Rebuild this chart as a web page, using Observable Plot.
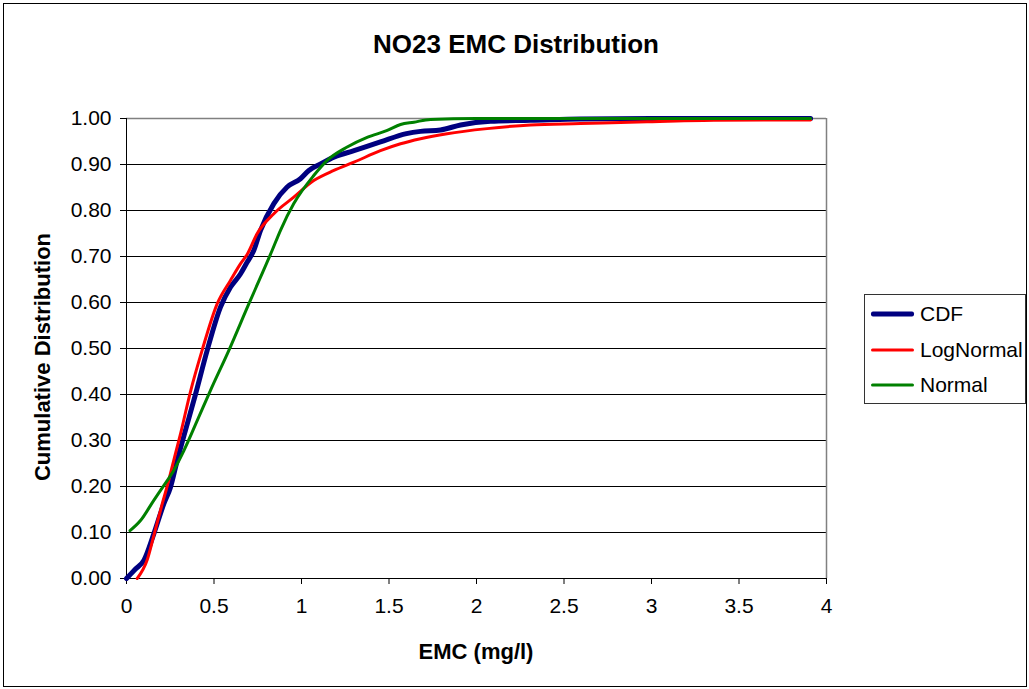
<!DOCTYPE html>
<html><head><meta charset="utf-8">
<script src="https://cdn.jsdelivr.net/npm/d3@7"></script>
<script src="https://cdn.jsdelivr.net/npm/@observablehq/plot@0.6"></script>
<style>
body{margin:0;background:#fff;font-family:"Liberation Sans",Arial,sans-serif;}
#wrap{position:relative;width:1029px;height:689px;overflow:hidden;background:#fff}
#wrap svg{position:absolute;left:0;top:0}
#border{position:absolute;left:3px;top:3px;width:1022px;height:682px;border:1px solid #000}
.lbl{position:absolute;font-weight:bold;color:#000;white-space:nowrap}
#title{left:516px;top:44px;font-size:26px;transform:translate(-50%,-50%)}
#xlab{left:476px;top:652px;font-size:22px;transform:translate(-50%,-50%)}
#ylab{left:43px;top:357px;font-size:22px;transform:translate(-50%,-50%) rotate(-90deg)}
#legend{position:absolute;left:864px;top:294px;width:160px;height:108px;border:1px solid #333;background:#fff}
.item{position:absolute;left:6px;height:22px;font-size:21px}
.item .sw{position:absolute;left:0;width:43px;top:50%;transform:translateY(-50%);border-radius:2px}
.item span{position:absolute;left:49px;top:50%;transform:translateY(-50%);white-space:nowrap}
</style></head>
<body>
<div id="wrap">
<div id="border"></div>
</div>
<script>
// ---- data ----
const seriesNames = ["CDF", "LogNormal", "Normal"];
const seriesColors = ["#000080", "#ff0000", "#008000"];
const seriesWidths = [5, 3, 3];

const cdfX = [0, 0.05, 0.10, 0.156, 0.213, 0.251, 0.29, 0.328, 0.394, 0.461, 0.537, 0.594, 0.651, 0.69, 0.727, 0.766, 0.842, 0.918, 0.994, 1.042, 1.109, 1.185, 1.3, 1.451, 1.6, 1.68, 1.794, 1.909, 2.08, 2.309, 2.594, 3.0, 3.5, 3.909];
const cdfY = [0, 0.02, 0.04, 0.097, 0.162, 0.198, 0.257, 0.31, 0.40, 0.496, 0.59, 0.633, 0.662, 0.688, 0.713, 0.757, 0.815, 0.851, 0.869, 0.887, 0.901, 0.916, 0.93, 0.949, 0.967, 0.972, 0.975, 0.986, 0.994, 0.996, 0.999, 1.0, 1.0, 1.0];

const logNormalX = [0.061, 0.118, 0.156, 0.204, 0.232, 0.27, 0.309, 0.366, 0.432, 0.518, 0.594, 0.651, 0.69, 0.747, 0.842, 0.956, 1.07, 1.185, 1.3, 1.451, 1.566, 1.68, 1.832, 2.061, 2.309, 2.594, 2.975, 3.356, 3.909];
const logNormalY = [0, 0.04, 0.093, 0.162, 0.2, 0.257, 0.315, 0.407, 0.496, 0.597, 0.648, 0.684, 0.705, 0.75, 0.793, 0.829, 0.865, 0.887, 0.905, 0.93, 0.945, 0.956, 0.967, 0.978, 0.986, 0.989, 0.993, 0.996, 0.997];

const normalX = [0.02, 0.08, 0.156, 0.213, 0.27, 0.328, 0.404, 0.48, 0.585, 0.699, 0.766, 0.832, 0.88, 0.956, 1.07, 1.147, 1.261, 1.375, 1.49, 1.566, 1.642, 1.737, 2.0, 3.0, 3.909];
const normalY = [0.104, 0.126, 0.17, 0.202, 0.235, 0.278, 0.343, 0.409, 0.496, 0.597, 0.655, 0.713, 0.757, 0.815, 0.876, 0.909, 0.938, 0.959, 0.974, 0.987, 0.992, 0.998, 1.0, 1.0, 1.0];

const xTicks = [0, 0.5, 1, 1.5, 2, 2.5, 3, 3.5, 4];
const yTicks = [0, 0.1, 0.2, 0.3, 0.4, 0.5, 0.6, 0.7, 0.8, 0.9, 1.0];

const titleText = "NO23 EMC Distribution";
const xLabel = "EMC (mg/l)";
const yLabel = "Cumulative Distribution";

// ---- build ----
const toRows = (xs, ys, s) => xs.map((x, i) => ({x, y: ys[i], s}));
const cdf = toRows(cdfX, cdfY, "CDF");
const logn = toRows(logNormalX, logNormalY, "LogNormal");
const norm = toRows(normalX, normalY, "Normal");

const chart = Plot.plot({
  width: 1029, height: 689,
  marginLeft: 126, marginRight: 203, marginTop: 118, marginBottom: 111,
  x: {domain: [0, 4]},
  y: {domain: [0, 1]},
  color: {domain: seriesNames, range: seriesColors},
  style: {fontFamily: "'Liberation Sans', Arial, sans-serif", fontSize: "21px", background: "transparent", color: "#000"},
  marks: [
    Plot.ruleY(yTicks.filter(d => d > 0 && d < 1), {stroke: "#000", strokeWidth: 1}),
    Plot.ruleY([1], {stroke: "#808080", strokeWidth: 1.5}),
    Plot.ruleX([4], {stroke: "#808080", strokeWidth: 1.5}),
    Plot.axisY({ticks: yTicks, tickFormat: d3.format(".2f"), tickSize: 6, tickPadding: 9, label: null}),
    Plot.axisX({ticks: xTicks, tickFormat: d => String(d), tickSize: 6, tickPadding: 14, label: null}),
    Plot.ruleX([0], {stroke: "#000"}),
    Plot.ruleY([0], {stroke: "#000"}),
    Plot.line(cdf, {x: "x", y: "y", stroke: "s", strokeWidth: seriesWidths[0], curve: "monotone-x"}),
    Plot.line(logn, {x: "x", y: "y", stroke: "s", strokeWidth: seriesWidths[1], curve: "monotone-x"}),
    Plot.line(norm, {x: "x", y: "y", stroke: "s", strokeWidth: seriesWidths[2], curve: "monotone-x"})
  ]
});
const wrap = document.getElementById("wrap");
wrap.appendChild(chart);

function addLabel(id, text) {
  const d = document.createElement("div");
  d.className = "lbl"; d.id = id; d.textContent = text;
  wrap.appendChild(d);
}
addLabel("title", titleText);
addLabel("xlab", xLabel);
addLabel("ylab", yLabel);

const leg = document.createElement("div");
leg.id = "legend";
seriesNames.forEach((n, i) => {
  const it = document.createElement("div");
  it.className = "item";
  it.style.top = (8 + i * 35.5) + "px";
  const sw = document.createElement("div");
  sw.className = "sw";
  sw.style.background = seriesColors[i];
  sw.style.height = seriesWidths[i] + "px";
  const t = document.createElement("span");
  t.textContent = n;
  it.appendChild(sw); it.appendChild(t);
  leg.appendChild(it);
});
wrap.appendChild(leg);
</script>
</body></html>
